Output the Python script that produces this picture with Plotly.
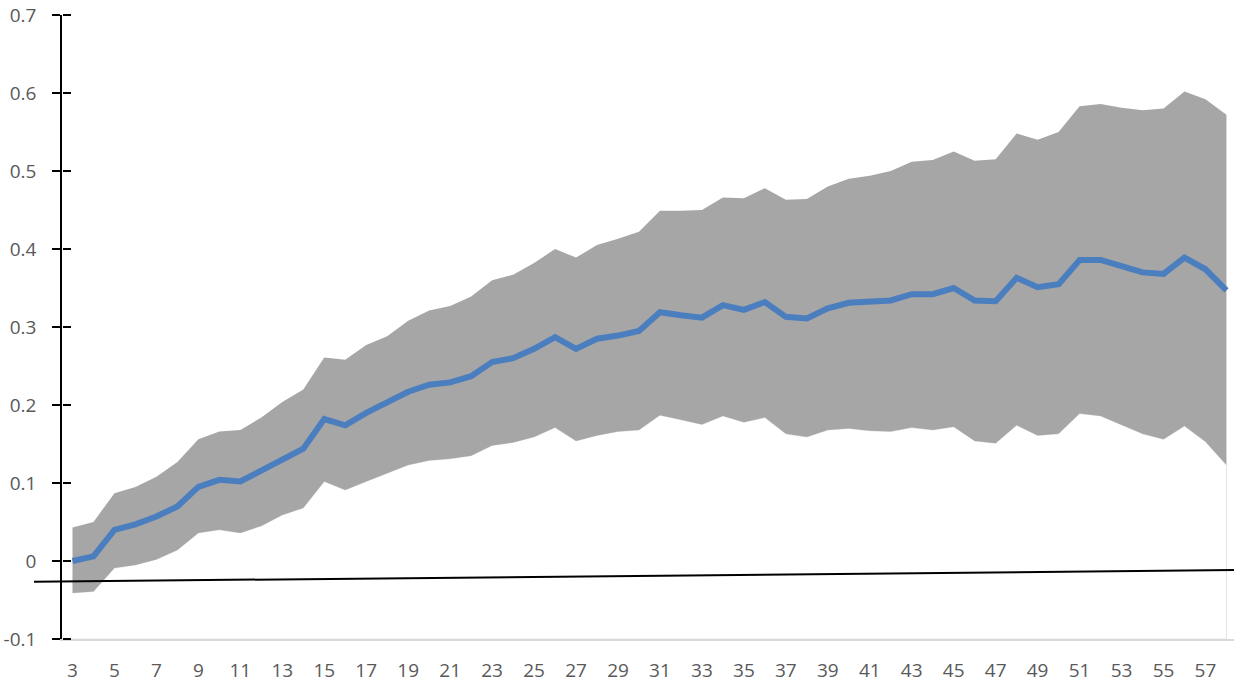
import plotly.graph_objects as go

# Horizon (categories 3..58)
periods = list(range(3, 59))

# Point estimate
mean_vals = [
    0.000, 0.006, 0.040, 0.047, 0.057, 0.070, 0.095, 0.104, 0.102, 0.116,
    0.130, 0.144, 0.182, 0.174, 0.190, 0.203, 0.217, 0.226, 0.229, 0.237,
    0.255, 0.260, 0.272, 0.287, 0.272, 0.285, 0.289, 0.295, 0.319, 0.315,
    0.312, 0.328, 0.322, 0.332, 0.313, 0.311, 0.324, 0.331, 0.332, 0.334,
    0.342, 0.342, 0.350, 0.334, 0.333, 0.363, 0.351, 0.355, 0.386, 0.386,
    0.378, 0.370, 0.368, 0.389, 0.374, 0.347,
]

# Upper bound of the confidence band
upper_vals = [
    0.043, 0.050, 0.087, 0.095, 0.108, 0.127, 0.156, 0.166, 0.168, 0.184,
    0.204, 0.220, 0.261, 0.258, 0.277, 0.288, 0.308, 0.321, 0.327, 0.339,
    0.360, 0.367, 0.382, 0.400, 0.389, 0.405, 0.413, 0.422, 0.449, 0.449,
    0.450, 0.466, 0.465, 0.478, 0.463, 0.464, 0.480, 0.490, 0.494, 0.500,
    0.512, 0.514, 0.525, 0.513, 0.515, 0.548, 0.540, 0.550, 0.583, 0.586,
    0.581, 0.578, 0.580, 0.602, 0.592, 0.572,
]

# Lower bound of the confidence band
lower_vals = [
    -0.041, -0.039, -0.009, -0.005, 0.002, 0.014, 0.036, 0.040, 0.036, 0.045,
    0.059, 0.068, 0.102, 0.091, 0.102, 0.112, 0.123, 0.129, 0.131, 0.135,
    0.148, 0.152, 0.159, 0.171, 0.154, 0.161, 0.166, 0.168, 0.187, 0.181,
    0.175, 0.186, 0.178, 0.184, 0.163, 0.159, 0.168, 0.170, 0.167, 0.166,
    0.171, 0.168, 0.172, 0.154, 0.151, 0.174, 0.161, 0.163, 0.189, 0.186,
    0.174, 0.163, 0.156, 0.173, 0.153, 0.123,
]

y_floor = -0.1
y_ticks = [-0.1, 0, 0.1, 0.2, 0.3, 0.4, 0.5, 0.6, 0.7]
y_ticktext = ["-0.1", "0", "0.1", "0.2", "0.3", "0.4", "0.5", "0.6", "0.7"]
x_ticks = list(range(3, 58, 2))
y_range = [-0.1, 0.7]

fig = go.Figure()

# White base area under the band (faint outline at its ends)
fig.add_trace(go.Scatter(
    x=periods + periods[::-1],
    y=lower_vals + [y_floor] * len(periods),
    fill="toself", fillcolor="white",
    line=dict(color="#e4e4e4", width=1),
    mode="lines", hoverinfo="skip", showlegend=False,
))

# Confidence band
fig.add_trace(go.Scatter(
    x=periods, y=lower_vals, mode="lines",
    line=dict(width=0, color="#a6a6a6"),
    hoverinfo="skip", showlegend=False,
))
fig.add_trace(go.Scatter(
    x=periods, y=upper_vals, mode="lines",
    line=dict(width=0, color="#a6a6a6"),
    fill="tonexty", fillcolor="#a6a6a6",
    hoverinfo="skip", showlegend=False,
))

# Point estimate line
fig.add_trace(go.Scatter(
    x=periods, y=mean_vals, mode="lines",
    line=dict(color="#4a7ebf", width=6),
    showlegend=False,
))

# invisible trace on the overlay axis (inner half of the cross ticks)
fig.add_trace(go.Scatter(
    x=[periods[0]], y=[mean_vals[0]], yaxis="y2", mode="markers",
    marker=dict(opacity=0), hoverinfo="skip", showlegend=False,
))

# Thin reference line drawn across the chart
fig.add_shape(
    type="line", xref="paper", yref="paper",
    x0=-0.0239, y0=0.0917, x1=1.0, y1=0.1104,
    line=dict(color="black", width=2),
)

tick_font = dict(family="Open Sans, Liberation Sans, sans-serif", size=19, color="#595959")

fig.update_layout(
    width=1234, height=686,
    margin=dict(l=62, r=0, t=15, b=47),
    paper_bgcolor="white", plot_bgcolor="white",
    showlegend=False,
    xaxis=dict(
        range=[2.5, 58.36],
        tickmode="array", tickvals=x_ticks,
        ticks="", showgrid=False, zeroline=False,
        showline=True, linecolor="#d9d9d9", linewidth=1.5,
        tickfont=tick_font, ticklabelstandoff=13,
    ),
    yaxis=dict(
        range=y_range,
        tickmode="array", tickvals=y_ticks, ticktext=y_ticktext,
        ticks="outside", ticklen=8, tickwidth=1.5, tickcolor="black",
        showgrid=False, zeroline=False,
        showline=True, linecolor="black", linewidth=1.5,
        tickfont=tick_font, ticklabelstandoff=12,
    ),
    yaxis2=dict(
        range=y_range, overlaying="y", side="right",
        anchor="free", position=0,
        tickmode="array", tickvals=y_ticks, showticklabels=False,
        ticks="outside", ticklen=8, tickwidth=1.5, tickcolor="black",
        showgrid=False, zeroline=False, showline=False,
    ),
)

fig.write_html("out.html")
